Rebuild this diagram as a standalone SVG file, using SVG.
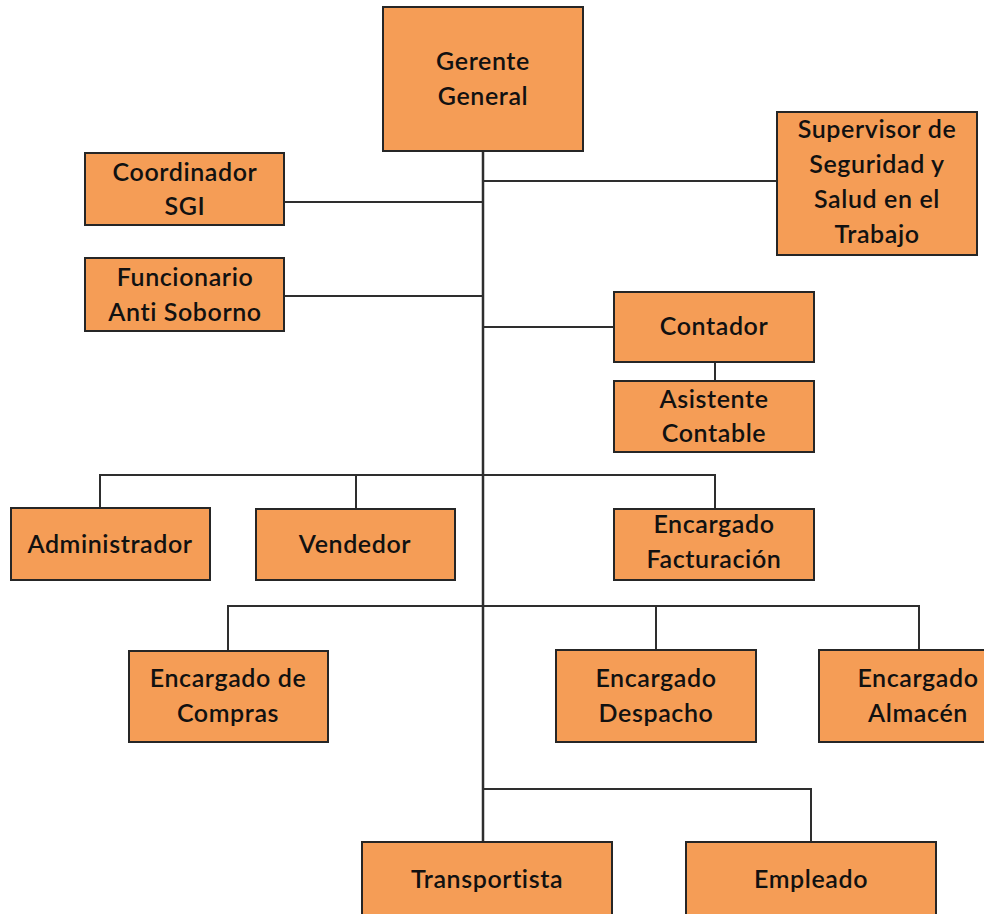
<svg xmlns="http://www.w3.org/2000/svg" width="984" height="914" viewBox="0 0 984 914">
<style>
.box{fill:#F59D56;stroke:#262626;stroke-width:2}
.t{font-family:Lato,"Open Sans","Liberation Sans",sans-serif;font-size:25px;font-weight:600;fill:#111111;text-anchor:middle;letter-spacing:0.6px}
.c{stroke:#2e2e2e;stroke-width:2;fill:none}
</style>
<rect width="984" height="914" fill="#ffffff"/>
<g id="connectors">
<line class="c" x1="483" y1="151" x2="483" y2="842" style="stroke-width:2.5"/>
<line class="c" x1="483" y1="181" x2="777" y2="181"/>
<line class="c" x1="284" y1="202" x2="483" y2="202"/>
<line class="c" x1="284" y1="296" x2="483" y2="296"/>
<line class="c" x1="483" y1="327" x2="614" y2="327"/>
<line class="c" x1="715" y1="362" x2="715" y2="381"/>
<polyline class="c" points="100,508 100,475 715,475 715,509"/>
<line class="c" x1="356" y1="475" x2="356" y2="509"/>
<polyline class="c" points="228,651 228,606 919,606 919,650"/>
<line class="c" x1="656" y1="606" x2="656" y2="650"/>
<polyline class="c" points="483,789 811,789 811,842"/>
</g>
<g id="gerente"><rect class="box" x="383" y="7" width="200" height="144"/><text class="t" x="483" y="70">Gerente</text><text class="t" x="483" y="105">General</text></g>
<g id="supervisor"><rect class="box" x="777" y="112" width="200" height="143"/><text class="t" x="877" y="138">Supervisor de</text><text class="t" x="877" y="173">Seguridad y</text><text class="t" x="877" y="208">Salud en el</text><text class="t" x="877" y="243">Trabajo</text></g>
<g id="coordinador"><rect class="box" x="85" y="153" width="199" height="72"/><text class="t" x="185" y="181">Coordinador</text><text class="t" x="185" y="215">SGI</text></g>
<g id="funcionario"><rect class="box" x="85" y="258" width="199" height="73"/><text class="t" x="185" y="286">Funcionario</text><text class="t" x="185" y="321">Anti Soborno</text></g>
<g id="contador"><rect class="box" x="614" y="292" width="200" height="70"/><text class="t" x="714" y="335">Contador</text></g>
<g id="asistente"><rect class="box" x="614" y="381" width="200" height="71"/><text class="t" x="714" y="408">Asistente</text><text class="t" x="714" y="442">Contable</text></g>
<g id="administrador"><rect class="box" x="11" y="508" width="199" height="72"/><text class="t" x="110" y="553">Administrador</text></g>
<g id="vendedor"><rect class="box" x="256" y="509" width="199" height="71"/><text class="t" x="355" y="553">Vendedor</text></g>
<g id="facturacion"><rect class="box" x="614" y="509" width="200" height="71"/><text class="t" x="714" y="533">Encargado</text><text class="t" x="714" y="568">Facturación</text></g>
<g id="compras"><rect class="box" x="129" y="651" width="199" height="91"/><text class="t" x="228" y="687">Encargado de</text><text class="t" x="228" y="722">Compras</text></g>
<g id="despacho"><rect class="box" x="556" y="650" width="200" height="92"/><text class="t" x="656" y="687">Encargado</text><text class="t" x="656" y="722">Despacho</text></g>
<g id="almacen"><rect class="box" x="819" y="650" width="200" height="92"/><text class="t" x="918" y="687">Encargado</text><text class="t" x="918" y="722">Almacén</text></g>
<g id="transportista"><rect class="box" x="362" y="842" width="250" height="90"/><text class="t" x="487" y="888">Transportista</text></g>
<g id="empleado"><rect class="box" x="686" y="842" width="250" height="90"/><text class="t" x="811" y="888">Empleado</text></g>
</svg>
